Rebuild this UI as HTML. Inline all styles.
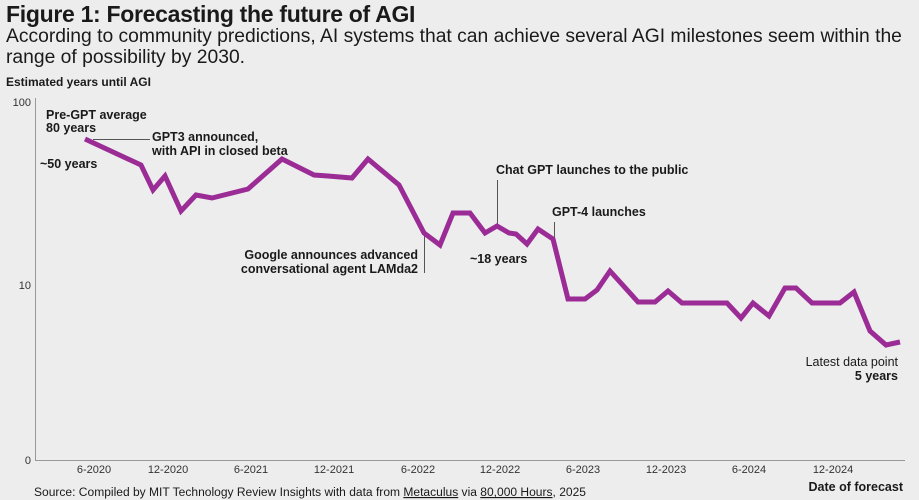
<!DOCTYPE html>
<html><head><meta charset="utf-8"><style>
body{margin:0;width:919px;height:500px;background:#ededee;font-family:"Liberation Sans",sans-serif;overflow:hidden;position:relative;color:#1a1a1a}
.t{position:absolute;white-space:nowrap}
</style></head><body>
<div class="t" style="left:6px;top:1px;font-size:23px;font-weight:bold;letter-spacing:-0.3px">Figure 1: Forecasting the future of AGI</div>
<div class="t" style="left:6px;top:26px;font-size:19.3px;line-height:21px;letter-spacing:0px">According to community predictions, AI systems that can achieve several AGI milestones seem within the<br>range of possibility by 2030.</div>
<div class="t" style="left:6px;top:75px;font-size:12px;font-weight:bold">Estimated years until AGI</div>
<svg width="919" height="500" style="position:absolute;left:0;top:0" font-family="Liberation Sans, sans-serif">
<line x1="35.5" y1="98" x2="35.5" y2="460" stroke="#999" stroke-width="1"/>
<line x1="35" y1="460.5" x2="905" y2="460.5" stroke="#999" stroke-width="1"/>
<g font-size="11" fill="#333" text-anchor="end"><text x="31" y="106">100</text><text x="31" y="289">10</text><text x="31" y="464">0</text></g>
<g font-size="11" fill="#333" text-anchor="middle">
<text x="94" y="473">6-2020</text><text x="168" y="473">12-2020</text><text x="251" y="473">6-2021</text><text x="334" y="473">12-2021</text><text x="418" y="473">6-2022</text><text x="500" y="473">12-2022</text><text x="583" y="473">6-2023</text><text x="666" y="473">12-2023</text><text x="749" y="473">6-2024</text><text x="833" y="473">12-2024</text></g>
<g stroke="#555" stroke-width="1"><line x1="93" y1="139.5" x2="150" y2="139.5"/><line x1="424.5" y1="233" x2="424.5" y2="273"/><line x1="497.5" y1="180" x2="497.5" y2="226"/><line x1="554.5" y1="222" x2="554.5" y2="238"/></g>
<polyline fill="none" stroke="#9b2c96" stroke-width="5" stroke-linejoin="miter" points="85,139 141,165 153,190 165,176 181,211 196,195 212,198 248,189 282,159 314,175 328,176 352,178 368,159 399,185 424,233 440,245 453,213 470,213 485,233 497,226 509,233 516,234 527,244 538,229 553,239 568,299 585,299 597,290 610,271 638,302 655,302 668,291 682,303 727,303 741,318 753,303 769,316 785,288 796,288 812,303 840,303 854,292 870,331 886,345 900,342"/>
<g font-size="12.5" font-weight="bold" fill="#1a1a1a">
<text x="46" y="119">Pre-GPT average</text><text x="46" y="132">80 years</text>
<text x="152" y="141">GPT3 announced,</text><text x="152" y="155">with API in closed beta</text>
<text x="40" y="168">~50 years</text>
<text x="418" y="259" text-anchor="end">Google announces advanced</text><text x="418" y="273" text-anchor="end">conversational agent LAMda2</text>
<text x="496" y="174">Chat GPT launches to the public</text>
<text x="552" y="216">GPT-4 launches</text>
<text x="470" y="263">~18 years</text>
<text x="898" y="380" text-anchor="end">5 years</text>
<text x="903" y="491" text-anchor="end">Date of forecast</text>
</g>
<text x="898" y="366" text-anchor="end" font-size="12.5" fill="#1a1a1a">Latest data point</text>
<text x="34" y="496" font-size="11.5" fill="#1a1a1a" textLength="552" lengthAdjust="spacingAndGlyphs">Source: Compiled by MIT Technology Review Insights with data from <tspan text-decoration="underline">Metaculus</tspan> via <tspan text-decoration="underline">80,000 Hours</tspan>, 2025</text>
</svg>
</body></html>
